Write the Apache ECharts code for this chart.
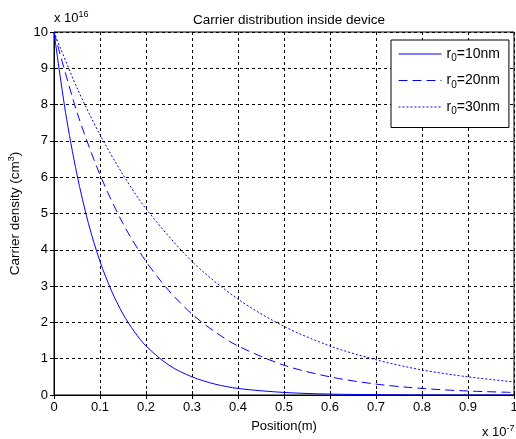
<!DOCTYPE html>
<html>
<head>
<meta charset="utf-8">
<script src="https://cdn.jsdelivr.net/npm/echarts@6/dist/echarts.min.js"></script>
<style>
  html, body { margin: 0; padding: 0; background: #fff; }
  #chart { width: 516px; height: 439px; }
</style>
</head>
<body>
<div id="chart"></div>
<script>
// positions in units of 1e-7 m, densities in units of 1e16 cm^-3
const pos_r10 = [0, 0.025, 0.05, 0.075, 0.1, 0.125, 0.15, 0.175, 0.2, 0.25, 0.3, 0.35, 0.4, 0.5, 0.6, 0.7, 0.8, 0.9, 1.0];
const dens_r10 = [10, 7.79, 6.07, 4.72, 3.68, 2.87, 2.23, 1.74, 1.35, 0.82, 0.5, 0.3, 0.18, 0.07, 0.025, 0.01, 0.003, 0.001, 0.0005];
const pos_r20 = [0, 0.05, 0.1, 0.15, 0.2, 0.25, 0.3, 0.35, 0.4, 0.5, 0.6, 0.7, 0.8, 0.9, 1.0];
const dens_r20 = [10, 7.79, 6.07, 4.72, 3.68, 2.87, 2.23, 1.74, 1.35, 0.82, 0.5, 0.3, 0.18, 0.11, 0.07];
const pos_r30 = [0, 0.05, 0.1, 0.15, 0.2, 0.3, 0.4, 0.5, 0.6, 0.7, 0.8, 0.9, 1.0];
const dens_r30 = [10, 8.46, 7.17, 6.07, 5.13, 3.68, 2.64, 1.89, 1.35, 0.97, 0.69, 0.5, 0.36];
const series_names = ["r{s|0}=10nm", "r{s|0}=20nm", "r{s|0}=30nm"];
const line_types = ["solid", [9, 5], [2, 2]];

const font = "Liberation Sans, Arial, sans-serif";
const fs = 13;
const zip = (xs, ys) => xs.map((x, i) => [x, ys[i]]);
const all_data = [zip(pos_r10, dens_r10), zip(pos_r20, dens_r20), zip(pos_r30, dens_r30)];

const chart = echarts.init(document.getElementById("chart"), null, { renderer: "canvas" });

const splitDash = { show: true, lineStyle: { color: "#000", type: [3, 3], width: 1 } };

chart.setOption({
  animation: false,
  backgroundColor: "#fff",
  title: {
    text: "Carrier distribution inside device",
    left: 284, top: 8, textAlign: "center",
    textStyle: { fontFamily: font, fontSize: 13.5, fontWeight: "normal", color: "#000" },
  },
  grid: { left: 54, right: 2, top: 32, bottom: 44, outerBoundsMode: "none",
    show: true, borderColor: "#000", borderWidth: 1 },
  xAxis: [
    {
      type: "value", min: 0, max: 1, interval: 0.1,
      name: "Position(m)", nameLocation: "middle", nameGap: 25,
      nameTextStyle: { fontFamily: font, fontSize: fs, color: "#000" },
      axisLine: { lineStyle: { color: "#000" } },
      axisTick: { inside: true, length: 4, lineStyle: { color: "#000" } },
      axisLabel: { fontFamily: font, fontSize: fs, color: "#000", margin: 6,
        formatter: v => (v === 0 ? "0" : v === 1 ? "1" : v.toFixed(1)) },
      splitLine: splitDash,
    },
    {
      type: "value", min: 0, max: 1, interval: 0.1, position: "top",
      axisLine: { show: false },
      axisTick: { inside: true, length: 4, lineStyle: { color: "#000" } },
      axisLabel: { show: false }, splitLine: { show: false },
    },
  ],
  yAxis: [
    {
      type: "value", min: 0, max: 10, interval: 1,
      name: "Carrier density (cm{sup|3})", nameLocation: "middle", nameGap: 28,
      nameTextStyle: { fontFamily: font, fontSize: 13.5, color: "#000",
        rich: { sup: { fontFamily: font, fontSize: 9, verticalAlign: "top", padding: [0, 0, 8, 0] } } },
      axisLine: { show: true, lineStyle: { color: "#000" } },
      axisTick: { show: true, inside: true, length: 4, lineStyle: { color: "#000" } },
      axisLabel: { fontFamily: font, fontSize: fs, color: "#000", margin: 6 },
      splitLine: splitDash,
    },
    {
      type: "value", min: 0, max: 10, interval: 1, position: "right",
      axisLine: { show: false },
      axisTick: { show: true, inside: true, length: 4, lineStyle: { color: "#000" } },
      axisLabel: { show: false }, splitLine: { show: false },
    },
  ],
  legend: {
    orient: "vertical", left: 391, top: 40,
    backgroundColor: "#fff", borderColor: "#000", borderWidth: 1,
    padding: [7, 9, 11, 7], itemGap: 10, itemWidth: 43, itemHeight: 10,
    itemStyle: { color: "transparent", borderWidth: 0 },
    lineStyle: { width: 1 },
    textStyle: { fontFamily: font, fontSize: 14, color: "#000",
      rich: { s: { fontFamily: font, fontSize: 10, padding: [9, 0, 0, 0] } } },
    data: series_names,
  },
  graphic: [
    { type: "text", left: 54, top: 10, style: {
      text: "x 10{sup|16}", font: fs + "px " + font, fill: "#000",
      rich: { sup: { fontSize: 9, padding: [0, 0, 8, 0] } } } },
    { type: "text", left: 482, top: 424, style: {
      text: "x 10{sup|-7}", font: fs + "px " + font, fill: "#000",
      rich: { sup: { fontSize: 9, padding: [0, 0, 8, 0] } } } },
  ],
  series: all_data.map((d, i) => ({
    name: series_names[i],
    type: "line",
    data: d,
    smooth: 0.3,
    showSymbol: false,
    symbol: "none",
    color: "#0000ff",
    lineStyle: { color: "#0000ff", width: 1, type: line_types[i] },
  })),
});
</script>
</body>
</html>
